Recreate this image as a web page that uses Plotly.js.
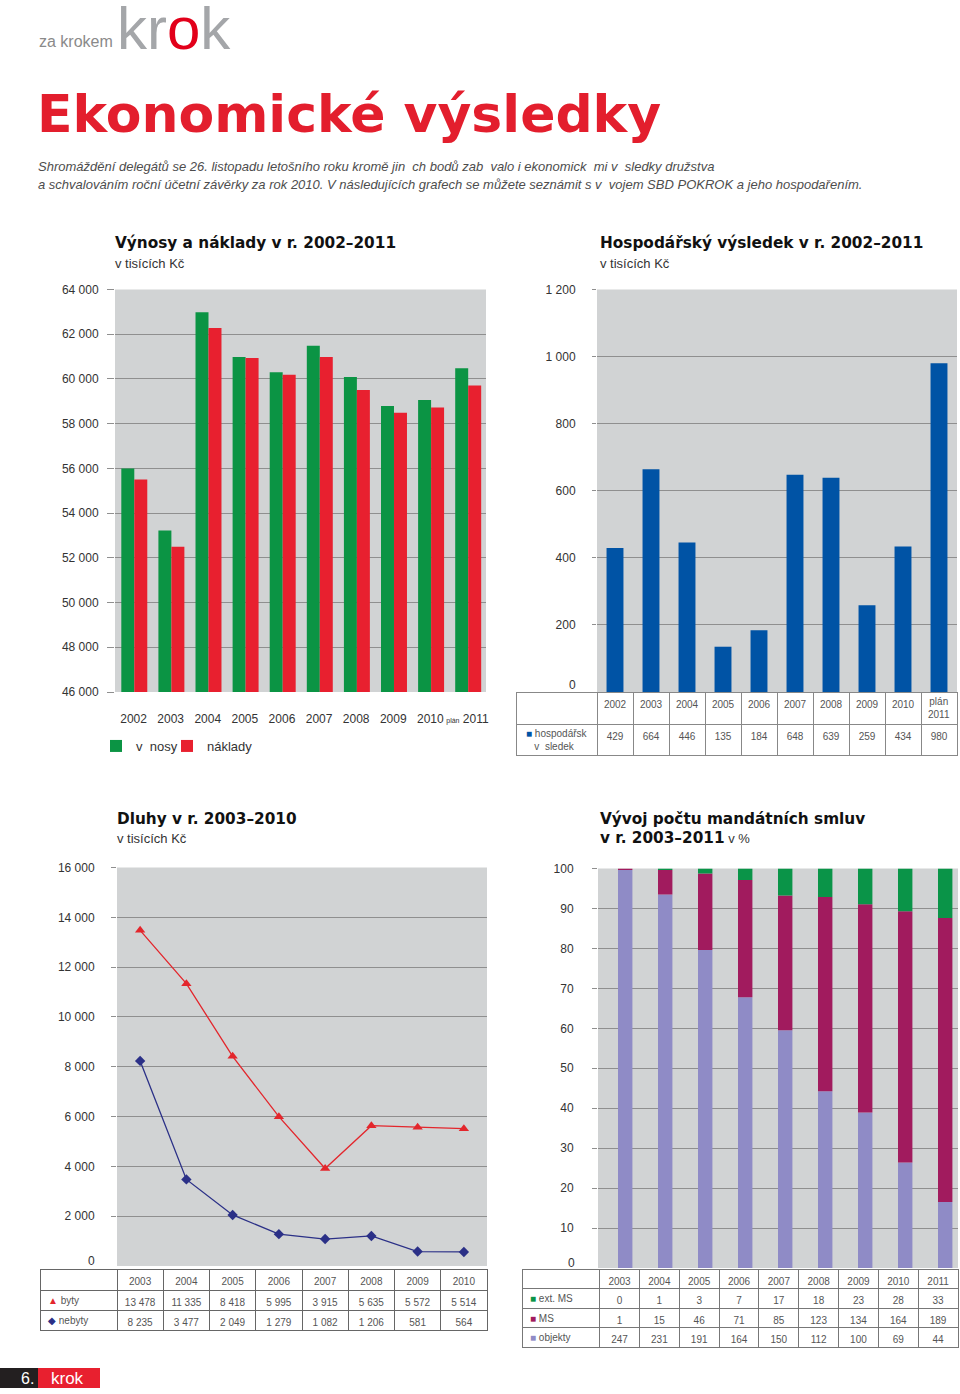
<!DOCTYPE html>
<html><head><meta charset="utf-8">
<script src="https://cdn.plot.ly/plotly-3.0.1.min.js"></script>
<style>html,body{margin:0;padding:0;background:#fff}#chart{width:960px;height:1394px}</style>
</head><body><div id="chart"></div>
<script>
// ---------- DATA ----------
const years1 = ['2002','2003','2004','2005','2006','2007','2008','2009','2010','2011'];
const yearLabels1 = ['2002','2003','2004','2005','2006','2007','2008','2009','2010','<span style="font-size:7px">plán</span> 2011'];
const vynosy  = [56000, 53220, 62980, 60980, 60300, 61490, 60090, 58790, 59060, 60480];
const naklady = [55500, 52500, 62280, 60940, 60190, 60980, 59510, 58490, 58720, 59710];

const hvLabels = ['2002','2003','2004','2005','2006','2007','2008','2009','2010','plán<br>2011'];
const hospVysledek = [429, 664, 446, 135, 184, 648, 639, 259, 434, 980];

const dluhyYears = ['2003','2004','2005','2006','2007','2008','2009','2010'];
const byty   = [13478, 11335, 8418, 5995, 3915, 5635, 5572, 5514];
const nebyty = [8235, 3477, 2049, 1279, 1082, 1206, 581, 564];

const smlYears = ['2003','2004','2005','2006','2007','2008','2009','2010','2011'];
const extMS   = [0, 1, 3, 7, 17, 18, 23, 28, 33];
const MS      = [1, 15, 46, 71, 85, 123, 134, 164, 189];
const objekty = [247, 231, 191, 164, 150, 112, 100, 69, 44];

// ---------- STYLE ----------
const W = 960, H = 1394;
const px = v => v / W;
const py = v => 1 - v / H;
const BG = '#d1d3d4', GRID = '#8f8f8f';
const GREEN = '#0b9444', RED = '#e8202f', BLUE = '#0053a5';
const LRED = '#e3262c', NAVY = '#2b3087';
const LAV = '#8f8bc6', MAG = '#a11b5e', GREEN2 = '#0a9448';
const FONT = 'Liberation Sans, Arial, sans-serif';
const TFONT = 'DejaVu Sans, Verdana, sans-serif';
const NB = '\u00a0';
const fmt = n => String(n).replace(/\B(?=(\d{3})+(?!\d))/g, NB);

// percentages for the 100% stacked chart
const tot = objekty.map((v, i) => v + MS[i] + extMS[i]);
const pObj = objekty.map((v, i) => v / tot[i] * 100);
const pMS = MS.map((v, i) => v / tot[i] * 100);
const pExt = extMS.map((v, i) => v / tot[i] * 100);
const baseMS = pObj;
const baseExt = pObj.map((v, i) => v + pMS[i]);

const traces = [
  {type:'bar', name:'v \u00a0nosy', x:years1, y:vynosy, xaxis:'x', yaxis:'y', legend:'legend',
   marker:{color:GREEN}, width:0.35, offset:-0.33, hoverinfo:'skip'},
  {type:'bar', name:'náklady', x:years1, y:naklady, xaxis:'x', yaxis:'y', legend:'legend2',
   marker:{color:RED}, width:0.35, offset:0.02, hoverinfo:'skip'},
  {type:'bar', name:'hospodářský výsledek', x:years1, y:hospVysledek, xaxis:'x2', yaxis:'y2',
   marker:{color:BLUE}, width:0.47, showlegend:false, hoverinfo:'skip'},
  {type:'scatter', mode:'lines+markers', name:'byty', x:dluhyYears, y:byty, xaxis:'x3', yaxis:'y3',
   line:{color:LRED, width:1.3}, marker:{symbol:'triangle-up', size:9, color:LRED}, showlegend:false, hoverinfo:'skip'},
  {type:'scatter', mode:'lines+markers', name:'nebyty', x:dluhyYears, y:nebyty, xaxis:'x3', yaxis:'y3',
   line:{color:NAVY, width:1.3}, marker:{symbol:'diamond', size:8, color:NAVY}, showlegend:false, hoverinfo:'skip'},
  {type:'bar', name:'objekty', x:smlYears, y:pObj, base:0, xaxis:'x4', yaxis:'y4',
   marker:{color:LAV}, width:0.36, offset:0, showlegend:false, hoverinfo:'skip'},
  {type:'bar', name:'MS', x:smlYears, y:pMS, base:baseMS, xaxis:'x4', yaxis:'y4',
   marker:{color:MAG}, width:0.36, offset:0, showlegend:false, hoverinfo:'skip'},
  {type:'bar', name:'ext. MS', x:smlYears, y:pExt, base:baseExt, xaxis:'x4', yaxis:'y4',
   marker:{color:GREEN2}, width:0.36, offset:0, showlegend:false, hoverinfo:'skip'},
];

const tblFont = {family:FONT, size:10, color:'#555'};
const blankCol = arr => arr.map(() => '');

// Table 2 (multi-line cells are placed as annotations below)
const t2Header = [''].concat(hvLabels.map(l => l.indexOf('<br>') >= 0 ? '' : l));
traces.push({type:'table', domain:{x:[px(516), px(957)], y:[py(756), py(692)]},
  columnwidth:[81].concat(hvLabels.map(() => 36)),
  header:{values:t2Header, align:'center', height:32, font:tblFont,
    fill:{color:'#fff'}, line:{color:'#888', width:1}},
  cells:{values:[['']].concat(hospVysledek.map(v => [fmt(v)])),
    align:['left'].concat(hvLabels.map(() => 'center')), height:31, font:tblFont,
    fill:{color:'#fff'}, line:{color:'#888', width:1}}
});
// Table 3
const t3Keys = [[LRED, '▲', 'byty'], [NAVY, '◆', 'nebyty']];
traces.push({type:'table', domain:{x:[px(40), px(487)], y:[py(1331), py(1269)]},
  columnwidth:[77].concat(dluhyYears.map(() => 46.25)),
  header:{values:[''].concat(dluhyYears), align:'center', height:21, font:tblFont,
    fill:{color:'#fff'}, line:{color:'#666', width:1}},
  cells:{values:[blankCol(t3Keys)].concat(dluhyYears.map((y, i) => [fmt(byty[i]), fmt(nebyty[i])])),
    align:['left'].concat(dluhyYears.map(() => 'center')), height:20, font:tblFont,
    fill:{color:'#fff'}, line:{color:'#666', width:1}}
});
// Table 4
const t4Keys = [[GREEN2, '■', 'ext. MS'], [MAG, '■', 'MS'], [LAV, '■', 'objekty']];
traces.push({type:'table', domain:{x:[px(522), px(958)], y:[py(1348), py(1269)]},
  columnwidth:[78].concat(smlYears.map(() => 40)),
  header:{values:[''].concat(smlYears), align:'center', height:19.5, font:tblFont,
    fill:{color:'#fff'}, line:{color:'#777', width:1}},
  cells:{values:[blankCol(t4Keys)].concat(smlYears.map((y, i) => [fmt(extMS[i]), fmt(MS[i]), fmt(objekty[i])])),
    align:['left'].concat(smlYears.map(() => 'center')), height:19.5, font:tblFont,
    fill:{color:'#fff'}, line:{color:'#777', width:1}}
});

const yBase = {showgrid:true, gridcolor:GRID, gridwidth:1, zeroline:false, showline:false,
  ticks:'outside', tickcolor:GRID, tickfont:{family:FONT, size:12, color:'#333'},
  tickformat:',d', fixedrange:true};
const xBase = {type:'category', showgrid:false, zeroline:false, showline:false, ticks:'', fixedrange:true};

const ann = [];
function A(text, x, y, o) { ann.push(Object.assign({text, x:px(x), y:py(y), xref:'paper', yref:'paper',
  xanchor:'left', yanchor:'middle', showarrow:false, align:'left', font:{family:FONT, size:13, color:'#333'}}, o || {})); }

A('za krokem', 37, 41, {font:{family:FONT, size:16, color:'#8a8a8a'}});
A('kr<span style="color:#e2001a">o</span>k', 115, 28, {font:{family:FONT, size:60, color:'#a4a6a9'}});
A('Ekonomické výsledky', 35, 114, {font:{family:TFONT, size:52, color:'#e31e2d', weight:'bold'}});
A('Shromáždění delegátů se 26. listopadu letošního roku kromě jin \u00a0ch bodů zab \u00a0valo i ekonomick \u00a0mi v \u00a0sledky družstva',
  36, 167, {font:{family:FONT, size:13, color:'#4d4d4d', style:'italic'}});
A('a schvalováním roční účetní závěrky za rok 2010. V následujících grafech se můžete seznámit s v \u00a0vojem SBD POKROK a jeho hospodařením.',
  36, 185, {font:{family:FONT, size:13, color:'#4d4d4d', style:'italic'}});

const TT = {family:TFONT, size:15.3, color:'#111', weight:'bold'};
A('Výnosy a náklady v r. 2002–2011', 113, 243, {font:TT});
A('v tisících Kč', 113, 263);
A('Hospodářský výsledek v r. 2002–2011', 598, 243, {font:TT});
A('v tisících Kč', 598, 263);
A('Dluhy v r. 2003–2010', 115, 819, {font:TT});
A('v tisících Kč', 115, 838);
A('Vývoj počtu mandátních smluv', 598, 819, {font:TT});
A('v r. 2003–2011<span style="font-family:Liberation Sans;font-weight:normal;font-size:13px;color:#333"> v %</span>', 598, 838, {font:TT});

// table key labels (rich text)
A(`<span style="color:${BLUE}">■</span> hospodářsk<br>${NB}${NB}${NB}v${NB}${NB}sledek`, 524, 740, {font:tblFont});
t3Keys.forEach((k, i) => A(`<span style="color:${k[0]}">${k[1]}</span> ${k[2]}`, 46, 1300 + i * 20, {font:tblFont}));
t4Keys.forEach((k, i) => A(`<span style="color:${k[0]}">${k[1]}</span> ${k[2]}`, 528, 1298.5 + i * 19.5, {font:tblFont}));
// multi-line header cell of table 2, aligned with its bar column
hvLabels.forEach((l, i) => {
  if (l.indexOf('<br>') >= 0) ann.push({text:l, xref:'x2', yref:'paper', x:i, y:py(708), xanchor:'center', yanchor:'middle',
    showarrow:false, align:'center', font:tblFont});
});

// zero labels sitting above the tables
ann.push({text:'0', xref:'paper', yref:'y2', x:px(578), y:0, xanchor:'right', yanchor:'bottom', showarrow:false, yshift:-2, font:{family:FONT, size:12, color:'#333'}});
ann.push({text:'0', xref:'paper', yref:'y3', x:px(97), y:0, xanchor:'right', yanchor:'bottom', showarrow:false, yshift:-4, font:{family:FONT, size:12, color:'#333'}});
ann.push({text:'0', xref:'paper', yref:'y4', x:px(577), y:0, xanchor:'right', yanchor:'bottom', showarrow:false, yshift:-4, font:{family:FONT, size:12, color:'#333'}});

// footer
A('6.', 19, 1378, {font:{family:FONT, size:16, color:'#fff'}});
A('krok', 49, 1378, {font:{family:FONT, size:17, color:'#fff'}});

const shapes = [
  {type:'rect', xref:'paper', yref:'paper', x0:0, x1:px(38), y0:py(1388), y1:py(1368), fillcolor:'#231f20', line:{width:0}, layer:'below'},
  {type:'rect', xref:'paper', yref:'paper', x0:px(38), x1:px(100), y0:py(1388), y1:py(1368), fillcolor:'#e8202f', line:{width:0}, layer:'below'},
];

const legFont = {family:FONT, size:13, color:'#333'};
const layout = {
  width:W, height:H, autosize:false, margin:{l:0, r:0, t:0, b:0},
  paper_bgcolor:'#fff', plot_bgcolor:BG, separators:', ',
  barmode:'overlay', showlegend:true,
  font:{family:FONT, color:'#333'},
  legend:{orientation:'h', x:px(96), y:py(746), xanchor:'left', yanchor:'middle',
    font:legFont, bgcolor:'rgba(0,0,0,0)', itemclick:false, itemdoubleclick:false},
  legend2:{orientation:'h', x:px(167), y:py(746), xanchor:'left', yanchor:'middle',
    font:legFont, bgcolor:'rgba(0,0,0,0)', itemclick:false, itemdoubleclick:false},
  xaxis: Object.assign({}, xBase, {domain:[px(115), px(486)], anchor:'y', range:[-0.5, years1.length - 0.5],
    tickvals:years1, ticktext:yearLabels1, tickfont:{family:FONT, size:12, color:'#333'}, ticklabelstandoff:18}),
  yaxis: Object.assign({}, yBase, {domain:[py(692), py(289.5)], anchor:'x', range:[46000, 64000], dtick:2000, ticklen:7, ticklabelstandoff:6}),
  xaxis2: Object.assign({}, xBase, {domain:[px(597), px(957)], anchor:'y2', range:[-0.5, years1.length - 0.5], showticklabels:false}),
  yaxis2: Object.assign({}, yBase, {domain:[py(692), py(289.5)], anchor:'x2', range:[0, 1200], tickvals:[200,400,600,800,1000,1200], ticklen:4, ticklabelstandoff:14}),
  xaxis3: Object.assign({}, xBase, {domain:[px(117), px(487)], anchor:'y3', range:[-0.5, dluhyYears.length - 0.5], showticklabels:false}),
  yaxis3: Object.assign({}, yBase, {domain:[py(1266), py(867.5)], anchor:'x3', range:[0, 16000], tickvals:[2000,4000,6000,8000,10000,12000,14000,16000], ticklen:5, ticklabelstandoff:14}),
  xaxis4: Object.assign({}, xBase, {domain:[px(598), px(958)], anchor:'y4', range:[-0.5, smlYears.length - 0.5], showticklabels:false}),
  yaxis4: Object.assign({}, yBase, {domain:[py(1268), py(868.5)], anchor:'x4', range:[0, 100], tickvals:[10,20,30,40,50,60,70,80,90,100], ticklen:5, ticklabelstandoff:16}),
  annotations: ann, shapes: shapes,
};

Plotly.newPlot('chart', traces, layout, {staticPlot:true, displayModeBar:false});
</script></body></html>
